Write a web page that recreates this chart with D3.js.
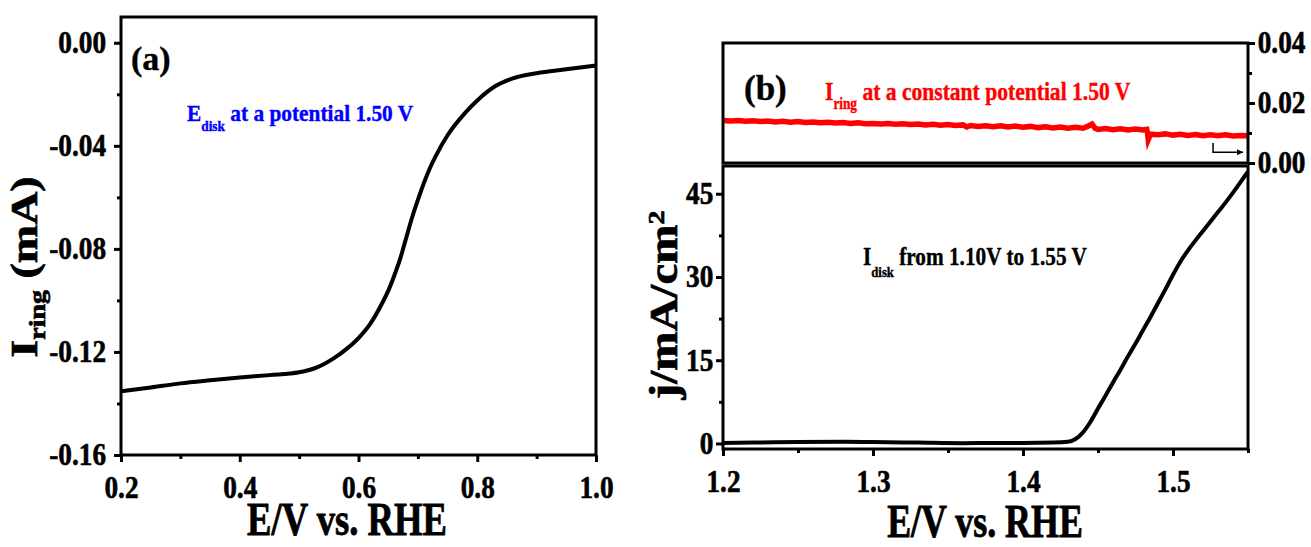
<!DOCTYPE html>
<html>
<head>
<meta charset="utf-8">
<style>
  body { margin: 0; background: #fff; }
  text { white-space: pre; }
</style>
</head>
<body>
<svg width="1311" height="547"></svg>
<script src="https://cdn.jsdelivr.net/npm/d3@7/dist/d3.min.js"></script>
<script>
// ---- data ----
// (a) ring current vs disk potential
var aE = [0.20, 0.25, 0.30, 0.35, 0.40, 0.45, 0.50, 0.53, 0.56, 0.58, 0.60, 0.62, 0.64, 0.65, 0.66,
          0.67, 0.68, 0.69, 0.70, 0.71, 0.72, 0.73, 0.75, 0.78, 0.80, 0.83, 0.86, 0.90, 0.95, 1.00];
var aI = [-0.1353, -0.1338, -0.1322, -0.1310, -0.1299, -0.1290, -0.1279, -0.1260, -0.1222, -0.1188,
          -0.1146, -0.1090, -0.1010, -0.0963, -0.0905, -0.0840, -0.0760, -0.0680, -0.0610, -0.0545,
          -0.0488, -0.0440, -0.0359, -0.0271, -0.0224, -0.0169, -0.0138, -0.0118, -0.0103, -0.0088];

// (b) disk current density
var bE = [1.20, 1.22, 1.25, 1.28, 1.30, 1.33, 1.36, 1.38, 1.40, 1.42, 1.43, 1.435, 1.44, 1.445, 1.45,
          1.455, 1.46, 1.465, 1.47, 1.475, 1.48, 1.485, 1.49, 1.495, 1.50, 1.505, 1.51, 1.515, 1.52,
          1.525, 1.53, 1.535, 1.54, 1.545, 1.55];
var bJ = [0.1, 0.15, 0.25, 0.3, 0.25, 0.15, 0.05, 0.1, 0.1, 0.15, 0.3, 0.8, 2.0, 3.9, 6.3,
          8.6, 11.0, 13.3, 15.7, 18.0, 20.4, 22.8, 25.3, 27.8, 30.4, 32.8, 34.8, 36.6, 38.3,
          40.0, 41.7, 43.4, 45.2, 47.1, 49.0];

// (b) ring current at constant potential
var ringE = [1.200, 1.205, 1.210, 1.215, 1.220, 1.225, 1.230, 1.235, 1.240, 1.245, 1.250, 1.255, 1.260,
             1.265, 1.270, 1.275, 1.280, 1.285, 1.290, 1.295, 1.300, 1.305, 1.310, 1.315, 1.320, 1.325,
             1.330, 1.335, 1.340, 1.345, 1.350, 1.355, 1.360, 1.3625, 1.365, 1.370, 1.375, 1.380, 1.385,
             1.390, 1.395, 1.400, 1.405, 1.410, 1.415, 1.420, 1.425, 1.430, 1.435, 1.440, 1.443, 1.446,
             1.448, 1.450, 1.455, 1.460, 1.465, 1.470, 1.475, 1.480, 1.4825, 1.483, 1.4835, 1.485, 1.490,
             1.495, 1.500, 1.505, 1.510, 1.515, 1.520, 1.525, 1.530, 1.535, 1.540, 1.545, 1.550];
var ringI = [0.0142, 0.0140, 0.0142, 0.0139, 0.0141, 0.0138, 0.0140, 0.0137, 0.0139, 0.0136, 0.0138, 0.0135, 0.0137,
             0.0134, 0.0136, 0.0133, 0.0135, 0.0132, 0.0134, 0.0131, 0.0132, 0.0130, 0.0132, 0.0129, 0.0131, 0.0128,
             0.0130, 0.0127, 0.0129, 0.0126, 0.0128, 0.0125, 0.0127, 0.0120, 0.0125, 0.0122, 0.0124, 0.0121, 0.0124,
             0.0120, 0.0123, 0.0119, 0.0122, 0.0118, 0.0121, 0.0117, 0.0120, 0.0116, 0.0119, 0.0116, 0.0122, 0.0130,
             0.0116, 0.0112, 0.0115, 0.0111, 0.0114, 0.0110, 0.0113, 0.0110, 0.0112, 0.0100, 0.0078, 0.0096, 0.0094,
             0.0097, 0.0093, 0.0096, 0.0092, 0.0095, 0.0091, 0.0094, 0.0091, 0.0094, 0.0090, 0.0092, 0.0091];

// ticks
var aXMajor = [0.2, 0.4, 0.6, 0.8, 1.0], aXMinor = [0.3, 0.5, 0.7, 0.9];
var aYMajor = [0, -0.04, -0.08, -0.12, -0.16], aYMinor = [-0.02, -0.06, -0.10, -0.14];
var bXMajor = [1.2, 1.3, 1.4, 1.5], bXMinor = [1.25, 1.35, 1.45, 1.55];
var bYMajor = [0, 15, 30, 45], bYMinor = [7.5, 22.5, 37.5];
var tYMajor = [0, 0.02, 0.04], tYMinor = [0.01, 0.03];

var FONT = "'Liberation Serif', 'Times New Roman', serif";
var svg = d3.select("svg");

var xa = d3.scaleLinear().domain([0.2, 1.0]).range([121, 596]);
var ya = d3.scaleLinear().domain([-0.16, 0.01]).range([455, 17]);
var xb = d3.scaleLinear().domain([1.2, 1.55]).range([723, 1248]);
var yb = d3.scaleLinear().domain([-1, 50]).range([449, 166]);
var yt = d3.scaleLinear().domain([0, 0.04]).range([163, 43]);

// mk: function returning a fresh d3 axis generator
function axis(mk, pos, major, minor, fmt, pad) {
  var g = svg.append("g").attr("transform", pos);
  g.append("g").call(mk().tickValues(minor).tickSize(4).tickSizeOuter(0).tickFormat(""));
  g.append("g").call(mk().tickValues(major).tickSize(7).tickSizeOuter(0).tickPadding(pad).tickFormat(fmt));
  g.selectAll(".domain").remove();
  g.selectAll("line").attr("stroke", "#000").attr("stroke-width", 3);
  g.selectAll("text")
    .attr("font-family", FONT).attr("font-weight", "bold").attr("font-size", 31)
    .attr("fill", "#000").attr("stroke", "#000").attr("stroke-width", 0.6)
    .attr("transform", "scale(0.88,1)");
  return g;
}

function frame(x0, y0, x1, y1) {
  svg.append("rect").attr("x", x0).attr("y", y0).attr("width", x1 - x0).attr("height", y1 - y0)
    .attr("fill", "none").attr("stroke", "#000").attr("stroke-width", 3);
}

// text with sub/superscripts; parts = [text, shift, size]
function rich(parts, o) {
  var t = svg.append("text").attr("transform", o.tf)
    .attr("font-family", FONT).attr("font-weight", "bold")
    .attr("font-size", o.size).attr("fill", o.color || "#000")
    .attr("stroke", o.color || "#000").attr("stroke-width", o.sw || 0.4)
    .attr("text-anchor", o.anchor || "start");
  var shift = 0;
  parts.forEach(function(p) {
    var s = p[1] || 0;
    t.append("tspan").attr("dy", s - shift).attr("font-size", p[2] || null).text(p[0]);
    shift = s;
  });
  return t;
}

// ---------- panel (a) ----------
axis(function() { return d3.axisBottom(xa); }, "translate(0,455)", aXMajor, aXMinor, function(d) { return d.toFixed(1); }, 14);
axis(function() { return d3.axisLeft(ya); }, "translate(121,0)", aYMajor, aYMinor, function(d) { return d.toFixed(2); }, 10);

svg.append("path")
  .datum(aE.map(function(e, i) { return [e, aI[i]]; }))
  .attr("fill", "none").attr("stroke", "#000").attr("stroke-width", 4)
  .attr("stroke-linejoin", "round")
  .attr("d", d3.line().x(function(d) { return xa(d[0]); }).y(function(d) { return ya(d[1]); }).curve(d3.curveMonotoneX));

frame(121, 17, 596, 455);

rich([["(a)"]], { tf: "translate(131,70)", size: 34 });
rich([["E"], ["disk", 10, 15], [" at a potential 1.50 V", 0]],
     { tf: "translate(187,120.5) scale(0.89,1)", size: 24, color: "#0000ff" });
rich([["E/V vs. RHE"]], { tf: "translate(347,535) scale(0.78,1)", size: 47, anchor: "middle", sw: 0.8 });
rich([["I"], ["ring", 10, 28], [" (mA)", 0]],
     { tf: "translate(37,267) rotate(-90) scale(1,0.83)", size: 46, anchor: "middle", sw: 0.8 });

// ---------- panel (b) ----------
axis(function() { return d3.axisBottom(xb); }, "translate(0,449)", bXMajor, bXMinor, function(d) { return d.toFixed(1); }, 14);
axis(function() { return d3.axisLeft(yb); }, "translate(723,0)", bYMajor, bYMinor, d3.format("d"), 4);
axis(function() { return d3.axisRight(yt); }, "translate(1248,0)", tYMajor, tYMinor, function(d) { return d.toFixed(2); }, 4);

svg.append("path")
  .datum(ringE.map(function(e, i) { return [e, ringI[i]]; }))
  .attr("fill", "none").attr("stroke", "#ff0000").attr("stroke-width", 5.5)
  .attr("d", d3.line().x(function(d) { return xb(d[0]); }).y(function(d) { return yt(d[1]); }));

svg.append("path")
  .datum(bE.map(function(e, i) { return [e, bJ[i]]; }))
  .attr("fill", "none").attr("stroke", "#000").attr("stroke-width", 4)
  .attr("stroke-linejoin", "round")
  .attr("d", d3.line().x(function(d) { return xb(d[0]); }).y(function(d) { return yb(d[1]); }).curve(d3.curveMonotoneX));

frame(723, 43, 1248, 163);
frame(723, 166, 1248, 449);

// small arrow pointing to the right axis
svg.append("defs").append("marker").attr("id", "ah")
  .attr("viewBox", "0 0 10 10").attr("refX", 10).attr("refY", 5)
  .attr("markerWidth", 8).attr("markerHeight", 6).attr("orient", "auto")
  .attr("markerUnits", "userSpaceOnUse")
  .append("path").attr("d", "M0,0L10,5L0,10Z").attr("fill", "#000");
svg.append("path")
  .attr("d", "M" + xb(1.5267) + "," + yt(0.0067) + "V" + yt(0.0036) + "H" + xb(1.5467))
  .attr("fill", "none").attr("stroke", "#000").attr("stroke-width", 1.5)
  .attr("marker-end", "url(#ah)");

rich([["(b)"]], { tf: "translate(744,100)", size: 35 });
rich([["I"], ["ring", 8.5, 16], [" at a constant potential 1.50 V", 0]],
     { tf: "translate(825,100) scale(0.83,1)", size: 26, color: "#ff0000" });
rich([["I"], ["disk", 12, 15], [" from 1.10V to 1.55 V", 0]],
     { tf: "translate(863,265) scale(0.85,1)", size: 25 });
rich([["E/V vs. RHE"]], { tf: "translate(985,537) scale(0.78,1)", size: 46, anchor: "middle", sw: 0.8 });
rich([["j/mA/cm"], ["2", -16, 28]],
     { tf: "translate(677,305) rotate(-90) scale(1,0.83)", size: 47, anchor: "middle", sw: 0.8 });
</script>
</body>
</html>
